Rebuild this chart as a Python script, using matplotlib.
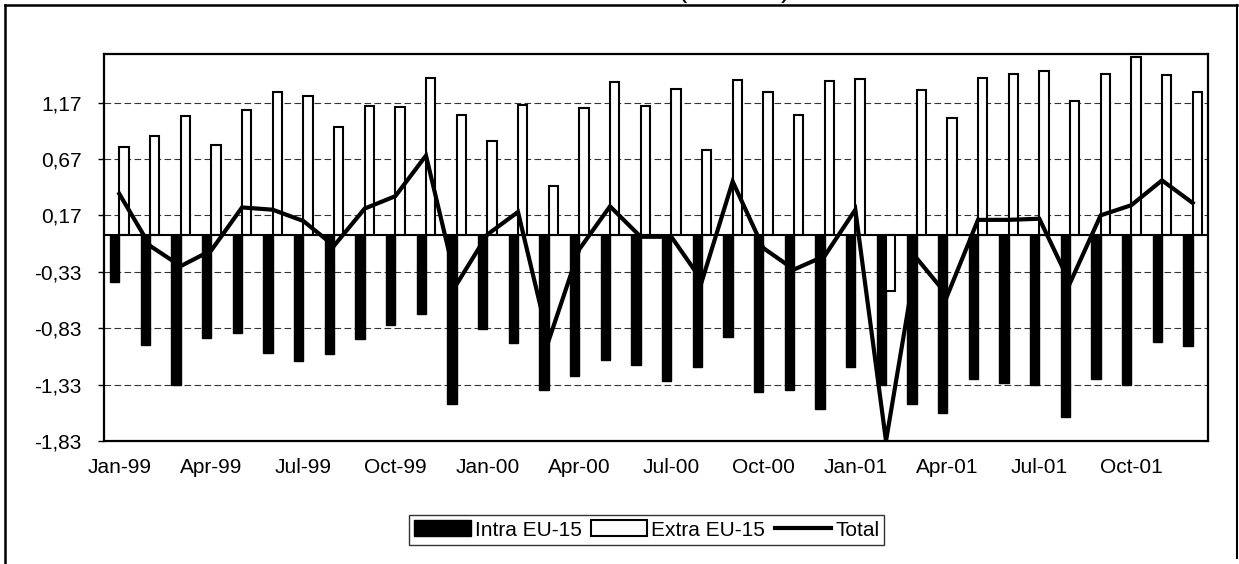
import matplotlib
matplotlib.use("Agg")
import matplotlib.pyplot as plt
import numpy as np
from matplotlib.patches import Patch
from matplotlib.lines import Line2D

plt.rcParams['font.family'] = ['Liberation Sans', 'DejaVu Sans']

months = ["Jan-99", "Feb-99", "Mar-99", "Apr-99", "May-99", "Jun-99", "Jul-99", "Aug-99", "Sep-99",
          "Oct-99", "Nov-99", "Dec-99", "Jan-00", "Feb-00", "Mar-00", "Apr-00", "May-00", "Jun-00",
          "Jul-00", "Aug-00", "Sep-00", "Oct-00", "Nov-00", "Dec-00", "Jan-01", "Feb-01", "Mar-01",
          "Apr-01", "May-01", "Jun-01", "Jul-01", "Aug-01", "Sep-01", "Oct-01", "Nov-01", "Dec-01"]

intra = [-0.42, -0.98, -1.33, -0.92, -0.87, -1.05, -1.12, -1.06, -0.93, -0.80,
         -0.70, -1.50, -0.84, -0.96, -1.38, -1.25, -1.11, -1.16, -1.30, -1.17,
         -0.91, -1.40, -1.38, -1.55, -1.17, -1.33, -1.50, -1.58, -1.28, -1.32,
         -1.33, -1.62, -1.28, -1.33, -0.95, -0.99]
extra = [0.78, 0.87, 1.05, 0.79, 1.10, 1.26, 1.23, 0.95, 1.14, 1.13,
         1.39, 1.06, 0.83, 1.15, 0.43, 1.12, 1.35, 1.14, 1.29, 0.75,
         1.37, 1.26, 1.06, 1.36, 1.38, -0.50, 1.28, 1.03, 1.39, 1.42,
         1.45, 1.18, 1.42, 1.57, 1.41, 1.26]
total = [0.36, -0.10, -0.28, -0.14, 0.24, 0.22, 0.12, -0.10, 0.23, 0.34,
         0.70, -0.44, 0.00, 0.20, -0.94, -0.13, 0.25, -0.02, -0.02, -0.41,
         0.47, -0.12, -0.31, -0.19, 0.22, -1.83, -0.21, -0.54, 0.13, 0.13,
         0.14, -0.43, 0.17, 0.26, 0.48, 0.28]

ytick_values = [1.17, 0.67, 0.17, -0.33, -0.83, -1.33, -1.83]
ytick_labels = ["1,17", "0,67", "0,17", "-0,33", "-0,83", "-1,33", "-1,83"]
xtick_labels = ["Jan-99", "Apr-99", "Jul-99", "Oct-99", "Jan-00", "Apr-00", "Jul-00",
                "Oct-00", "Jan-01", "Apr-01", "Jul-01", "Oct-01"]

FS = 15
fig = plt.figure(figsize=(12.39, 5.64), dpi=100)
ax = fig.add_axes([104 / 1239, 1 - 441 / 564, (1208 - 104) / 1239, (441 - 54) / 564])

x = np.arange(len(months))
w = 0.30
ax.bar(x - w / 2, intra, width=w, color='black', edgecolor='black', linewidth=1.0, zorder=3)
ax.bar(x + w / 2, extra, width=w, color='white', edgecolor='black', linewidth=1.5, zorder=3)
ax.plot(x, total, color='black', linewidth=3.0, zorder=4, solid_joinstyle='miter')
ax.axhline(0, color='black', linewidth=1.5, zorder=3.5)

ax.set_xlim(-0.5, len(months) - 0.5)
ax.set_ylim(-1.83, 1.60)
ax.set_yticks(ytick_values)
ax.set_yticklabels(ytick_labels, fontsize=FS)
ax.set_xticks(x[::3])
ax.set_xticklabels(xtick_labels, fontsize=FS)
ax.tick_params(axis='x', length=0, pad=12)
ax.tick_params(axis='y', length=4, width=1, pad=12, direction='out')
ax.grid(axis='y', color='#333333', linestyle=(0, (6, 3)), linewidth=0.8, zorder=1)
for s in ax.spines.values():
    s.set_linewidth(1.6)
    s.set_color('black')

handles = [Patch(facecolor='black', edgecolor='black', label='Intra EU-15'),
           Patch(facecolor='white', edgecolor='black', linewidth=1.5, label='Extra EU-15'),
           Line2D([0], [0], color='black', linewidth=3, label='Total')]
leg = fig.legend(handles=handles, loc='center', bbox_to_anchor=(646.7 / 1239, 1 - 530 / 564),
                 ncol=3, fontsize=FS, frameon=True, fancybox=False, borderpad=0.25,
                 handlelength=2.7, handleheight=0.8, handletextpad=0.2, columnspacing=0.45,
                 borderaxespad=0)
leg.get_frame().set_edgecolor('black')
leg.get_frame().set_linewidth(1.0)

# outer frame (top, left, right)
fig.add_artist(Line2D([5 / 1239, 1237 / 1239], [1 - 5 / 564, 1 - 5 / 564], transform=fig.transFigure,
                      color='black', linewidth=1.8))
fig.add_artist(Line2D([5 / 1239, 5 / 1239], [1 - 5 / 564, 0], transform=fig.transFigure,
                      color='black', linewidth=1.8))
fig.add_artist(Line2D([1237 / 1239, 1237 / 1239], [1 - 5 / 564, 1 - 558 / 564], transform=fig.transFigure,
                      color='black', linewidth=1.5))

# title parentheses, cut by the top edge as in the reference
fig.text(677 / 1239, 1.0 + 3 / 564, "(", fontsize=20, va='baseline', ha='left')
fig.text(790 / 1239, 1.0 + 3 / 564, ")", fontsize=20, va='baseline', ha='right')

fig.savefig("out.png", dpi=100)
